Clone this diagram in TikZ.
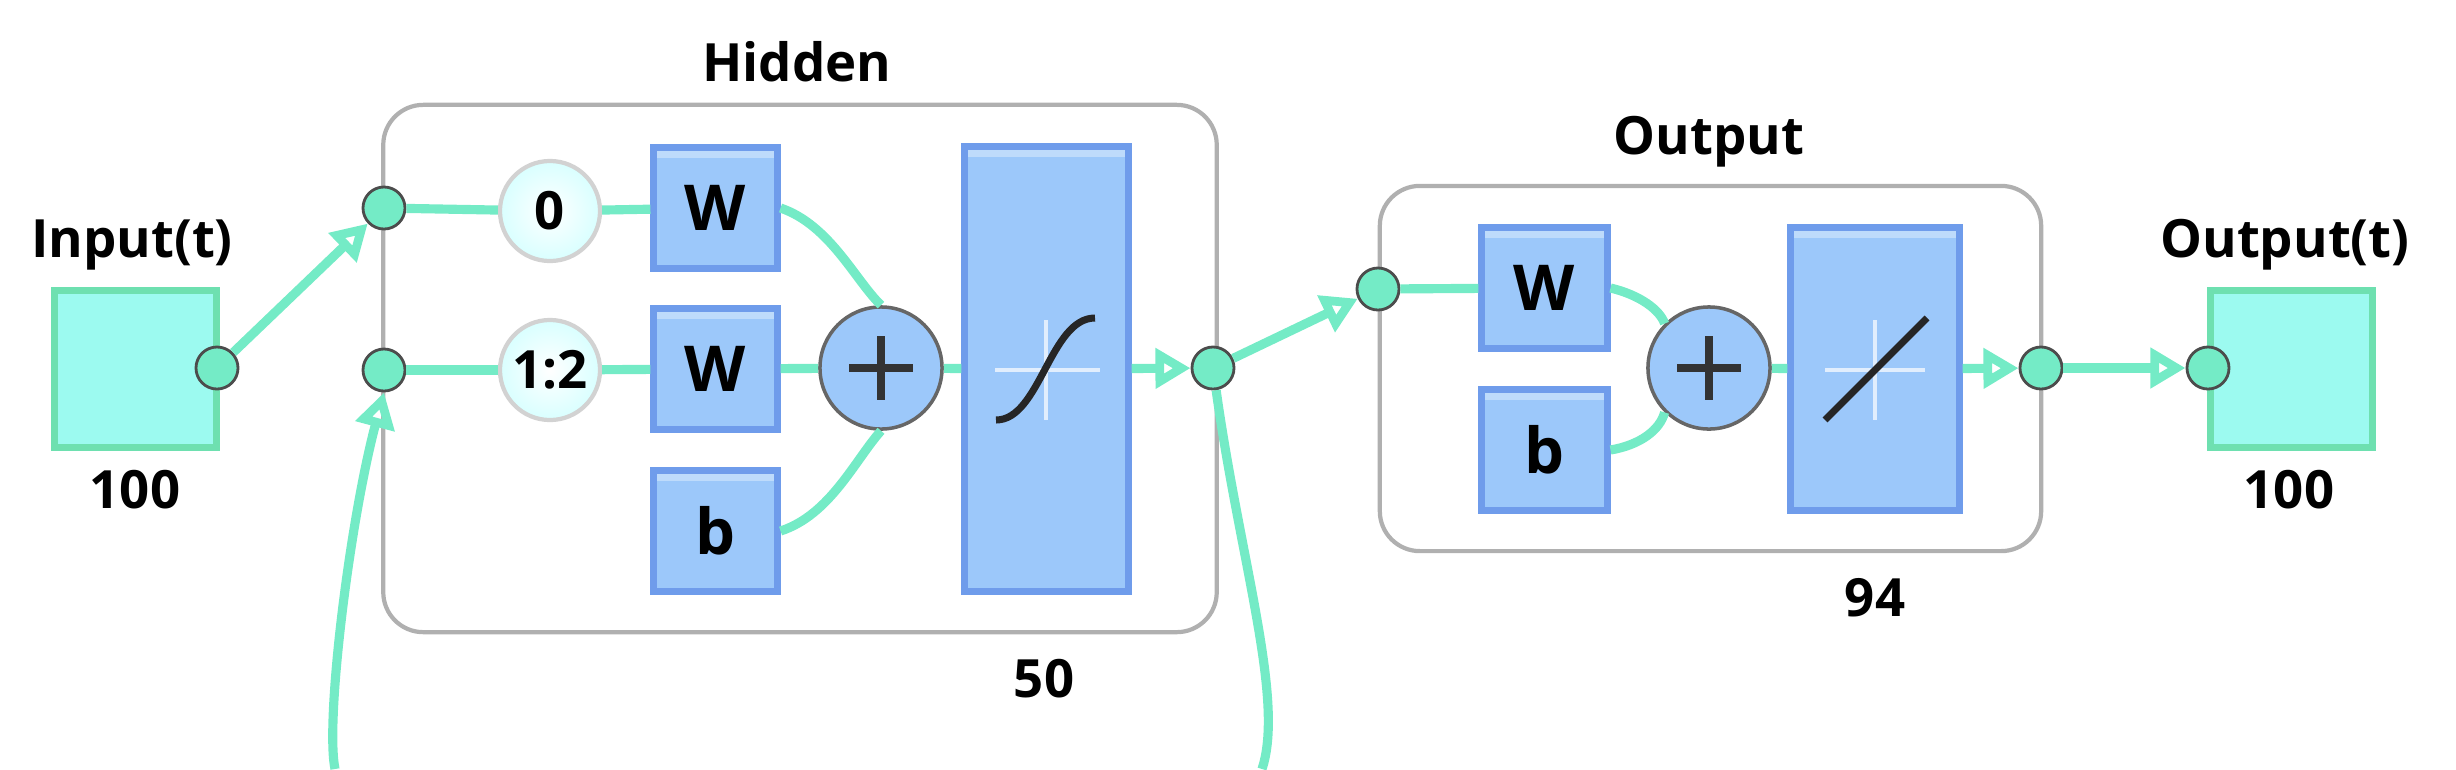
\documentclass[tikz,border=0pt]{standalone}
\usepackage{fontspec}
\setmainfont{Open Sans}
\usetikzlibrary{arrows.meta,calc}
\definecolor{mint}{HTML}{74EBC6}
\definecolor{cyanbox}{HTML}{9CFAF0}
\definecolor{cyanedge}{HTML}{6EE0B0}
\definecolor{bluebox}{HTML}{9CC8FA}
\definecolor{blueedge}{HTML}{6F9CEB}
\definecolor{frame}{HTML}{B0B0B0}
\begin{document}
\begin{tikzpicture}[x=0.01cm,y=-0.01cm,
  every node/.style={font=\fontsize{15}{18}\selectfont\bfseries},
  wire/.style={mint,line width=2.6pt},
  arr/.style={wire,-{Triangle[width=11pt,length=10pt,fill=mint!60,open=false]}},
  port/.style={circle,draw=black!70,fill=mint,line width=0.8pt,inner sep=0pt,minimum size=0.42cm},
  io/.style={draw=cyanedge,fill=cyanbox,line width=2pt,minimum width=1.62cm,minimum height=1.56cm,inner sep=0pt},
  wb/.style={draw=blueedge,fill=bluebox,line width=2pt,inner sep=0pt,
     path picture={\fill[white,opacity=.35] (path picture bounding box.north west) rectangle ([yshift=-0.1cm]path picture bounding box.north east);}},
  delay/.style={circle,draw=gray!35,line width=1.2pt,inner color=white,outer color=cyan!15,minimum size=1.0cm,inner sep=0pt},
  sum/.style={circle,draw=black!60,fill=bluebox,line width=1pt,minimum size=1.22cm,inner sep=0pt},
  layer/.style={draw=frame,line width=1.2pt,rounded corners=0.4cm}
]
\useasboundingbox (0,0) rectangle (2456,769);
% layer frames
\node[layer,minimum width=8.33cm,minimum height=5.27cm] (hid) at (800,368.5) {};
\node[layer,minimum width=6.61cm,minimum height=3.65cm] (out) at (1710.5,368.5) {};
\node at (797,62) {Hidden};
\node at (1709,142) {Output};
\node at (1044,679) {50};
\node at (1875,598) {94};
% input
\node[io] (inbox) at (135.5,369) {};
\node at (132,245) {Input(t)};
\node at (135,490) {100};
\node[port] (inp) at (217,368) {};
% hidden
\node[port] (h1) at (384,208) {};
\node[port] (h2) at (384,370) {};
\node[delay] (d0) at (550,211) {0};
\node[delay] (d12) at (550,370) {1:2};
\node[wb,minimum width=1.23cm,minimum height=1.2cm] (w1) at (715.5,208) {\fontsize{18}{20}\selectfont W};
\node[wb,minimum width=1.23cm,minimum height=1.2cm] (w2) at (715.5,369) {\fontsize{18}{20}\selectfont W};
\node[wb,minimum width=1.23cm,minimum height=1.2cm] (b1) at (715.5,531) {\fontsize{18}{20}\selectfont b};
\node[sum] (s1) at (881,368) {};
\draw[black!80,line width=2.2pt] ($(s1)+(-32,0)$) -- ($(s1)+(32,0)$) ($(s1)+(0,-32)$) -- ($(s1)+(0,32)$);
\node[wb,minimum width=1.63cm,minimum height=4.44cm] (t1) at (1046.5,369) {};
\draw[white,opacity=.7,line width=1pt] (995,370) -- (1100,370) (1046,320) -- (1046,420);
\draw[black!85,line width=2pt] (996,420) .. controls (1040,420) and (1050,318) .. (1095,318);
\node[port] (hout) at (1213,368) {};
% output layer
\node[port] (o1) at (1378,289) {};
\node[wb,minimum width=1.25cm,minimum height=1.2cm] (w3) at (1544.5,288) {\fontsize{18}{20}\selectfont W};
\node[wb,minimum width=1.25cm,minimum height=1.2cm] (b3) at (1544.5,450) {\fontsize{18}{20}\selectfont b};
\node[sum] (s2) at (1709,368) {};
\draw[black!80,line width=2.2pt] ($(s2)+(-32,0)$) -- ($(s2)+(32,0)$) ($(s2)+(0,-32)$) -- ($(s2)+(0,32)$);
\node[wb,minimum width=1.68cm,minimum height=2.82cm] (t2) at (1875,369) {};
\draw[white,opacity=.7,line width=1pt] (1825,370) -- (1925,370) (1875,320) -- (1875,420);
\draw[black!85,line width=2pt] (1825,420) -- (1927,318);
\node[port] (oout) at (2041,368) {};
% final output
\node[io] (outbox) at (2291.5,369) {};
\node at (2285,245) {Output(t)};
\node at (2289,490) {100};
\node[port] (oin) at (2208,368) {};
% wires
\draw[arr] (inp) -- (h1);
\draw[wire] (h1) -- (d0); \draw[wire] (d0) -- (w1);
\draw[wire] (h2) -- (d12); \draw[wire] (d12) -- (w2);
\draw[wire] (w1.east) .. controls (830,225) and (855,280) .. (s1.north);
\draw[wire] (b1.east) .. controls (830,515) and (855,460) .. (s1.south);
\draw[wire] (w2) -- (s1); \draw[wire] (s1) -- (t1);
\draw[arr] (t1) -- (hout);
\draw[arr] (hout) -- (o1);
\draw[wire] (o1) -- (w3);
\draw[wire] (w3.east) .. controls (1640,295) and (1660,310) .. (s2.north west);
\draw[wire] (b3.east) .. controls (1640,445) and (1660,430) .. (s2.south west);
\draw[wire] (s2) -- (t2);
\draw[arr] (t2) -- (oout);
\draw[arr] (oout) -- (oin);
\coordinate (fbA) at (1262,769);
\coordinate (fbB) at (335,769);
\draw[wire] (hout) .. controls (1240,560) and (1285,700) .. (fbA);
\draw[arr] (fbB) .. controls (325,720) and (350,520) .. (h2.south);
\end{tikzpicture}
\end{document}
